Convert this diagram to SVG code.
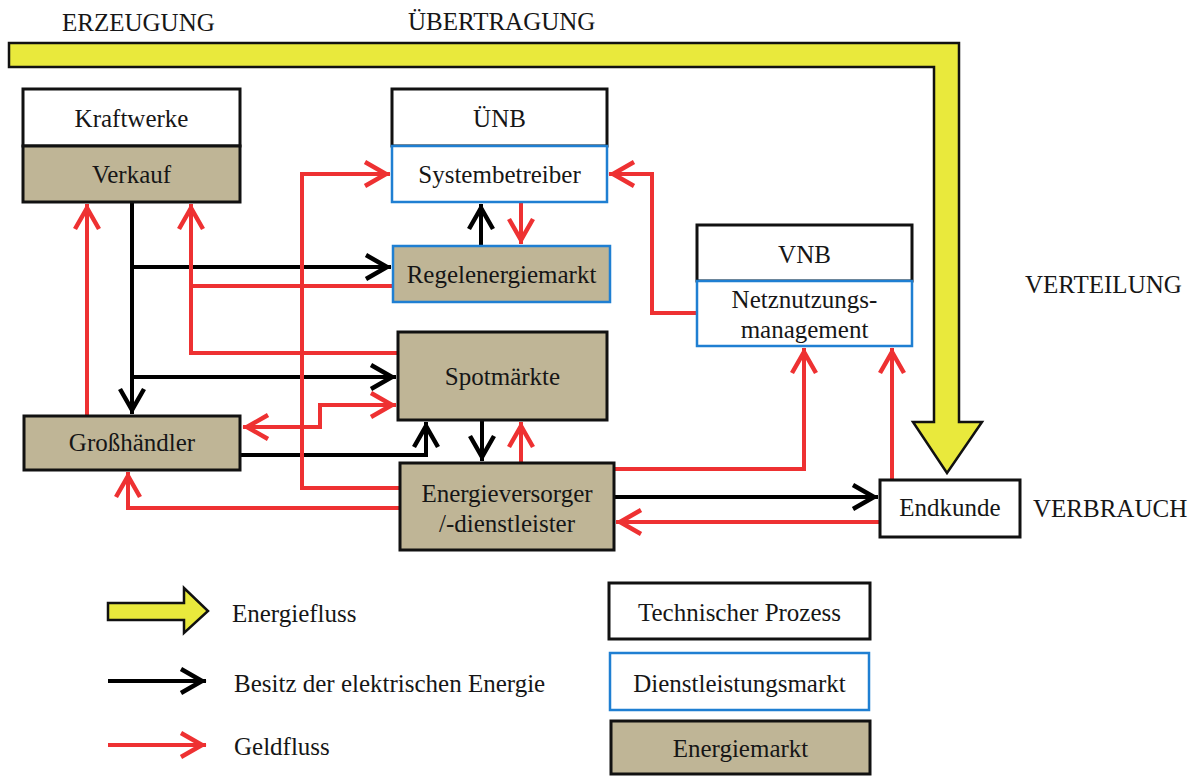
<svg xmlns="http://www.w3.org/2000/svg" width="1194" height="776" viewBox="0 0 1194 776">
  <style>
    text { font-family: "Liberation Serif", "Times New Roman", serif; font-size: 25px; fill: #161616; }
    .c { text-anchor: middle; }
    .tech { fill: #ffffff; stroke: #111111; stroke-width: 3; }
    .svc { fill: #ffffff; stroke: #1f7fd2; stroke-width: 2.5; }
    .mkt { fill: #bfb596; stroke: #111111; stroke-width: 3; }
    .mktb { fill: #bfb596; stroke: #1f7fd2; stroke-width: 2.5; }
    .flow { fill: #e9e93c; stroke: #111111; stroke-width: 2.5; stroke-linejoin: miter; }
    .own { fill: none; stroke: #000000; stroke-width: 4; marker-end: url(#hb); }
    .own0 { fill: none; stroke: #000000; stroke-width: 4; }
    .pay { fill: none; stroke: #ee3132; stroke-width: 4; marker-end: url(#hr); }
    .pay0 { fill: none; stroke: #ee3132; stroke-width: 4; }
  </style>
  <defs>
    <marker id="hb" markerUnits="userSpaceOnUse" viewBox="-30 -16 34 32" markerWidth="34" markerHeight="32" refX="0" refY="0" orient="auto-start-reverse">
      <path d="M-25,-12 L-4,0 L-25,12" fill="none" stroke="#000000" stroke-width="4.5"/>
    </marker>
    <marker id="hr" markerUnits="userSpaceOnUse" viewBox="-30 -16 34 32" markerWidth="34" markerHeight="32" refX="0" refY="0" orient="auto-start-reverse">
      <path d="M-25,-12 L-4,0 L-25,12" fill="none" stroke="#ee3132" stroke-width="4.5"/>
    </marker>
  </defs>

  <rect width="1194" height="776" fill="#ffffff"/>

  <!-- stage labels -->
  <g id="stages">
    <text x="62" y="31">ERZEUGUNG</text>
    <text x="408" y="30">ÜBERTRAGUNG</text>
    <text x="1025" y="293">VERTEILUNG</text>
    <text x="1033" y="517">VERBRAUCH</text>
  </g>

  <!-- energy flow band -->
  <g id="energy-flow">
    <path class="flow" d="M9,43 H959 V422 H982 L947,473 L913,422 H934 V67 H9 Z"/>
  </g>

  <!-- connectors -->
  <g id="connectors">
    <!-- ownership of electrical energy -->
    <path class="own" d="M132,202 V414"/>
    <path class="own" d="M132,267 H391"/>
    <path class="own" d="M132,377 H396"/>
    <path class="own" d="M240,455 H426 V422"/>
    <path class="own" d="M482,420 V461"/>
    <path class="own" d="M481,246 V204"/>
    <path class="own" d="M614,497 H878"/>
    <!-- money flow -->
    <path class="pay" d="M87,416 V204"/>
    <path class="pay0" d="M393,286 H191"/>
    <path class="pay" d="M398,353 H191 V204"/>
    <path class="pay" d="M400,488 H302 V174 H390"/>
    <path class="pay" d="M243,427 H320 V405 H396" marker-start="url(#hr)"/>
    <path class="pay" d="M521,463 V422"/>
    <path class="pay" d="M521,202 V244"/>
    <path class="pay" d="M400,508 H128 V472"/>
    <path class="pay" d="M614,469 H804 V348"/>
    <path class="pay" d="M880,522 H616"/>
    <path class="pay" d="M892,480 V348"/>
    <path class="pay" d="M697,313 H652 V174 H609"/>
  </g>

  <!-- nodes -->
  <g id="kraftwerke">
    <rect class="tech" x="23" y="89" width="217" height="57"/>
    <rect class="mkt" x="23" y="146" width="217" height="56"/>
    <text class="c" x="131.5" y="127">Kraftwerke</text>
    <text class="c" x="131.5" y="183">Verkauf</text>
  </g>

  <g id="uenb">
    <rect class="tech" x="392" y="89" width="215" height="57"/>
    <rect class="svc" x="392" y="146" width="215" height="56"/>
    <text class="c" x="499.5" y="127">ÜNB</text>
    <text class="c" x="499.5" y="183">Systembetreiber</text>
  </g>

  <g id="regelenergiemarkt">
    <rect class="mktb" x="393" y="246" width="217" height="56"/>
    <text class="c" x="501.5" y="283">Regelenergiemarkt</text>
  </g>

  <g id="vnb">
    <rect class="tech" x="697" y="225" width="215" height="56"/>
    <rect class="svc" x="697" y="281" width="215" height="65"/>
    <text class="c" x="804.5" y="263">VNB</text>
    <text class="c" x="804.5" y="308">Netznutzungs-</text>
    <text class="c" x="804.5" y="338">management</text>
  </g>

  <g id="spotmaerkte">
    <rect class="mkt" x="398" y="332" width="209" height="88"/>
    <text class="c" x="502.5" y="385">Spotmärkte</text>
  </g>

  <g id="grosshaendler">
    <rect class="mkt" x="24" y="416" width="216" height="54"/>
    <text class="c" x="132" y="451">Großhändler</text>
  </g>

  <g id="energieversorger">
    <rect class="mkt" x="400" y="463" width="214" height="87"/>
    <text class="c" x="507" y="502">Energieversorger</text>
    <text class="c" x="507" y="532">/-dienstleister</text>
  </g>

  <g id="endkunde">
    <rect class="tech" x="880" y="480" width="140" height="57"/>
    <text class="c" x="950" y="516">Endkunde</text>
  </g>

  <!-- legend -->
  <g id="legend">
    <path class="flow" d="M108,603 H184 V588 L208,611 L184,633 V620 H108 Z"/>
    <text x="232" y="622">Energiefluss</text>
    <path class="own" d="M108,681 H206"/>
    <text x="234" y="692">Besitz der elektrischen Energie</text>
    <path class="pay" d="M108,745 H206"/>
    <text x="234" y="755">Geldfluss</text>

    <rect class="tech" x="609" y="583" width="261" height="56"/>
    <text class="c" x="739.5" y="621">Technischer Prozess</text>
    <rect class="svc" x="610" y="653" width="259" height="57"/>
    <text class="c" x="739.5" y="692">Dienstleistungsmarkt</text>
    <rect class="mkt" x="611" y="721" width="259" height="53"/>
    <text class="c" x="740.5" y="757">Energiemarkt</text>
  </g>
</svg>
